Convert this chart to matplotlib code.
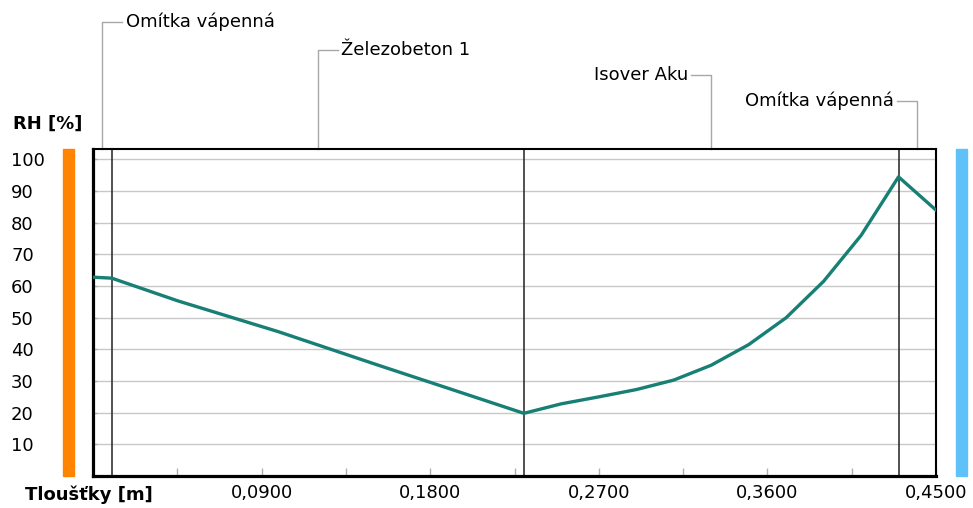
import matplotlib.pyplot as plt
from matplotlib.patches import Rectangle
from matplotlib.transforms import blended_transform_factory
import numpy as np

# vrstvy konstrukce
vrstvy = ['Omítka vápenná', 'Železobeton 1', 'Isover Aku', 'Omítka vápenná']
tloustky = [0.01, 0.22, 0.20, 0.02]

# prubeh relativni vlhkosti
x_m = [0.0, 0.01, 0.0454, 0.0989, 0.1523, 0.2004, 0.23, 0.25, 0.27, 0.29,
       0.31, 0.33, 0.35, 0.37, 0.39, 0.41, 0.43, 0.45]
rh = [62.8, 62.5, 55.3, 45.6, 35.0, 25.6, 19.8, 22.8, 25.0, 27.3,
      30.3, 35.0, 41.5, 50.0, 61.5, 76.0, 94.5, 84.0]

x_ticks = [0.09, 0.18, 0.27, 0.36, 0.45]
x_labels = ['0,0900', '0,1800', '0,2700', '0,3600', '0,4500']
y_ticks = [10, 20, 30, 40, 50, 60, 70, 80, 90, 100]

plt.rcParams['font.family'] = ['DejaVu Sans']
plt.rcParams['font.size'] = 13

fig = plt.figure(figsize=(9.73, 5.08), dpi=100)
ax = fig.add_axes([93/973, 32/508, 843/973, 327/508])

ax.set_xlim(0, 0.45)
ax.set_ylim(0, 103.3)

for y in y_ticks:
    ax.axhline(y, color='#c8c8c8', lw=1.0, zorder=1)

hranice = np.cumsum(tloustky)
for h in hranice[:-1]:
    ax.axvline(h, color='#222222', lw=1.1, zorder=2)

ax.plot(x_m, rh, color='#177f74', lw=2.4, zorder=3, solid_joinstyle='round')

# spines
for s in ['left', 'bottom']:
    ax.spines[s].set_linewidth(2.3)
for s in ['top', 'right']:
    ax.spines[s].set_linewidth(1.5)

# x ticks
ax.set_xticks(x_ticks)
ax.set_xticklabels(x_labels)
ax.set_xticks(np.arange(0.045, 0.45, 0.09), minor=True)
ax.tick_params(axis='x', which='both', direction='in', length=6, width=1,
               color='#b0b0b0', pad=6)
ax.tick_params(axis='y', which='both', direction='in', length=3, width=1,
               color='#b0b0b0')
ax.set_yticks(y_ticks)
ax.set_yticklabels([str(v) for v in y_ticks])
ax.tick_params(axis='y', pad=59)
for lab in ax.get_yticklabels():
    lab.set_horizontalalignment('left')

fig.text(25/973, 1 - 495/508, 'Tloušťky [m]', fontweight='bold', va='center', ha='left')
fig.text(13/973, 1 - 124/508, 'RH [%]', fontweight='bold', va='center', ha='left')

# barevne pruhy interier / exterier
ax.add_patch(Rectangle((-30/843, 0), 11/843, 1, transform=ax.transAxes,
                       color='#ff8400', clip_on=False, zorder=0))
ax.add_patch(Rectangle((863/843, 0), 11/843, 1, transform=ax.transAxes,
                       color='#5ec1f7', clip_on=False, zorder=0))

# popisky vrstev
trans = blended_transform_factory(ax.transData, ax.transAxes)
vysky = [1.388, 1.303, 1.226, 1.147]
stredy = hranice - np.array(tloustky) / 2
for nazev, xc, yv in zip(vrstvy, stredy, vysky):
    smer = 1 if xc < 0.225 else -1
    x2 = xc + smer * 0.0107
    ax.plot([xc, xc, x2], [1.0, yv, yv], color='#a8a8a8', lw=1.0,
            transform=trans, clip_on=False)
    ax.text(x2 + smer * 0.0018, yv, nazev, transform=trans,
            ha='left' if smer > 0 else 'right', va='center')

fig.savefig('out.png', dpi=100)
